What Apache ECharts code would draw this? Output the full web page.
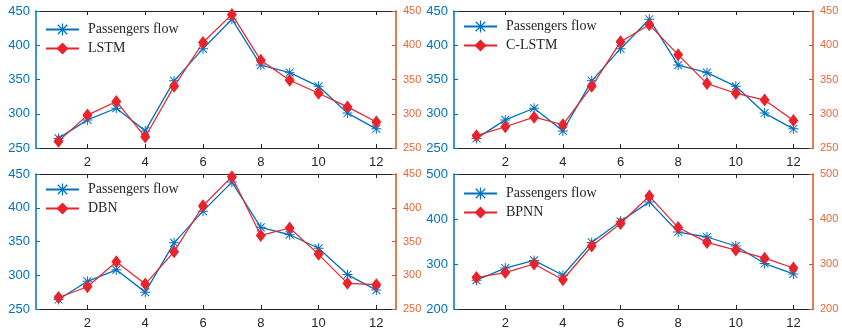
<!DOCTYPE html>
<html><head><meta charset="utf-8">
<script src="https://cdn.jsdelivr.net/npm/echarts@6/dist/echarts.min.js"></script>
<style>html,body{margin:0;padding:0;background:#fff}#c{width:842px;height:333px}</style>
</head><body><div id="c"></div>
<script>
// ---- data ----
const months = [1, 2, 3, 4, 5, 6, 7, 8, 9, 10, 11, 12];
const xTickValues = [2, 4, 6, 8, 10, 12];
const passengers = [264, 291, 308, 275, 348, 395, 438, 371, 360, 340, 301, 278];
const lstm  = [260, 298, 318, 266, 340, 404, 445, 378, 349, 330, 310, 288];
const clstm = [268, 281, 295, 284, 340, 405, 430, 386, 344, 330, 320, 290];
const dbn   = [267, 283, 320, 287, 335, 403, 446, 359, 370, 331, 288, 286];
const bpnn  = [270, 281, 300, 265, 340, 390, 451, 381, 348, 331, 313, 291];
const modelNames = ['LSTM', 'C-LSTM', 'DBN', 'BPNN'];
const modelValues = [lstm, clstm, dbn, bpnn];
const yMins = [250, 250, 250, 200];
const yMaxs = [450, 450, 450, 500];
const yIntervals = [50, 50, 50, 100];
const passengerName = 'Passengers flow';

// ---- layout / style ----
const BLUE = '#0072BD', ORANGE = '#D95319', ORANGE_TXT = '#E6683A', RED = '#E8232B', DARK = '#262626';
const STAR = 'path://M9,0L11,0L11,20L9,20Z M0,9L20,9L20,11L0,11Z M1.4,2.8L2.8,1.4L18.6,17.2L17.2,18.6Z M17.2,1.4L18.6,2.8L2.8,18.6L1.4,17.2Z';
const grids = [
  {left: 36, top: 11, width: 360, height: 137},
  {left: 454, top: 11, width: 359, height: 137},
  {left: 36, top: 174, width: 360, height: 135},
  {left: 454, top: 174, width: 359, height: 135}
];
const legendPos = [
  {left: 45, top: 22}, {left: 463, top: 19}, {left: 45, top: 182}, {left: 463, top: 186}
];

const xAxis = [], yAxis = [], series = [], legend = [];
grids.forEach((g, i) => {
  const xCommon = {
    type: 'value', gridIndex: i, min: 0.22, max: 12.68,
    axisLine: {show: true, onZero: false, lineStyle: {color: DARK, width: 1}},
    axisTick: {show: true, inside: true, length: 4, customValues: xTickValues, lineStyle: {color: DARK}},
    splitLine: {show: false}
  };
  xAxis.push(Object.assign({}, xCommon, {
    position: 'bottom',
    axisLabel: {show: true, customValues: xTickValues, color: DARK, fontSize: 13, fontFamily: 'Liberation Sans', margin: 8}
  }));
  xAxis.push(Object.assign({}, xCommon, {position: 'top', axisLabel: {show: false}}));
  yAxis.push({
    type: 'value', gridIndex: i, position: 'left', min: yMins[i], max: yMaxs[i], interval: yIntervals[i],
    axisLine: {show: true, onZero: false, lineStyle: {color: BLUE, width: 1.5}},
    axisTick: {show: true, inside: true, length: 4, lineStyle: {color: BLUE}},
    axisLabel: {color: BLUE, fontSize: 13, fontFamily: 'Liberation Sans', margin: 6},
    splitLine: {show: false}
  });
  yAxis.push({
    type: 'value', gridIndex: i, position: 'right', min: yMins[i], max: yMaxs[i], interval: yIntervals[i],
    axisLine: {show: true, onZero: false, lineStyle: {color: ORANGE, width: 1.5}},
    axisTick: {show: true, inside: true, length: 4, lineStyle: {color: ORANGE}},
    axisLabel: {color: ORANGE_TXT, fontSize: 11, fontFamily: 'Liberation Sans', margin: 7},
    splitLine: {show: false}
  });
  series.push({
    type: 'line', name: passengerName, xAxisIndex: 2 * i, yAxisIndex: 2 * i,
    data: months.map((m, j) => [m, passengers[j]]),
    symbol: STAR, symbolSize: 10, showAllSymbol: true,
    lineStyle: {color: BLUE, width: 1.3}, itemStyle: {color: BLUE}, z: 3, animation: false
  });
  series.push({
    type: 'line', name: modelNames[i], xAxisIndex: 2 * i, yAxisIndex: 2 * i + 1,
    data: months.map((m, j) => [m, modelValues[i][j]]),
    symbol: 'diamond', symbolSize: [10, 13], showAllSymbol: true,
    lineStyle: {color: RED, width: 1.2}, itemStyle: {color: RED}, z: 4, animation: false
  });
  legend.push({
    left: legendPos[i].left, top: legendPos[i].top, orient: 'vertical', padding: 0,
    data: [passengerName, modelNames[i]], selectedMode: false,
    itemWidth: 33, itemHeight: 15, itemGap: 4,
    textStyle: {fontFamily: 'Liberation Serif', fontSize: 14, lineHeight: 15, color: DARK, padding: [0, 0, 0, 4]}
  });
});

const chart = echarts.init(document.getElementById('c'), null, {renderer: 'canvas'});
chart.setOption({
  animation: false, backgroundColor: '#fff',
  grid: grids, xAxis, yAxis, series, legend
});
</script></body></html>
